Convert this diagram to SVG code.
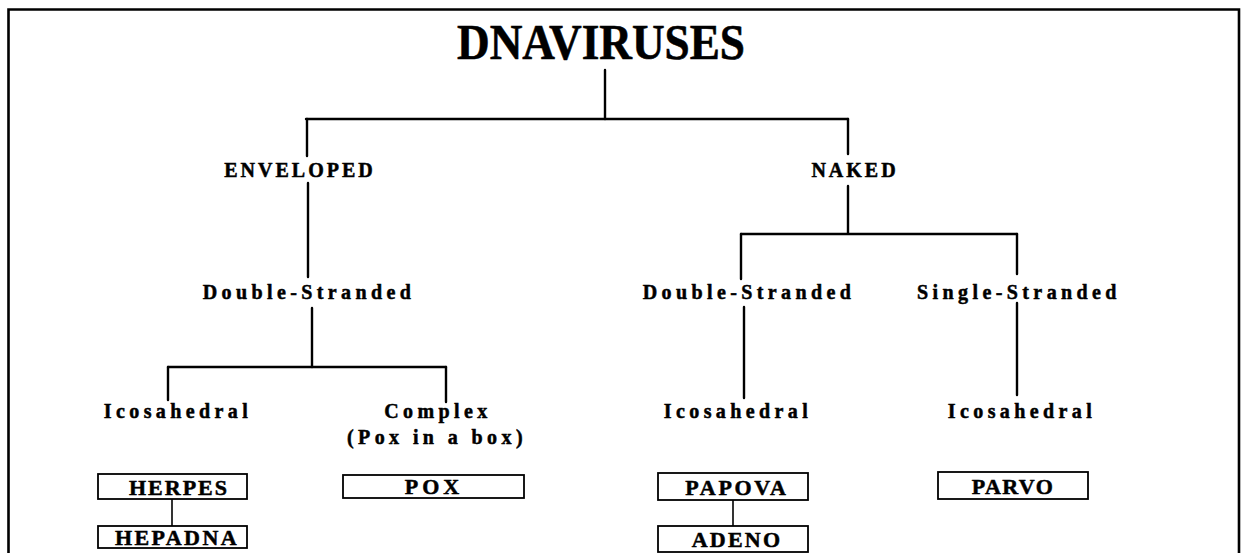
<svg xmlns="http://www.w3.org/2000/svg" width="1248" height="553" viewBox="0 0 1248 553">
<style>
.bg{fill:#ffffff}
.frame{fill:none;stroke:#000;stroke-width:2.6}
.conn line{stroke:#000;stroke-width:2.4;stroke-linecap:round}
.box{fill:#fff;stroke:#000;stroke-width:1.8}
text{font-family:"Liberation Serif","Times New Roman",serif;font-weight:bold;fill:#000;text-anchor:middle;stroke:#000;stroke-width:0.5}
.title{font-size:50px;stroke-width:0.6}
.cat{font-size:20px;letter-spacing:3px}
.lab{font-size:20px;letter-spacing:4.4px}
.vir{font-size:22px;letter-spacing:2.2px}
</style>
<rect class="bg" x="0" y="0" width="1248" height="553"/>
<path class="frame" d="M8.5,553 V9.5 H1239 V553"/>
<g class="conn">
<line x1="605" y1="70" x2="605" y2="119"/>
<line x1="306" y1="119" x2="848" y2="119"/>
<line x1="307" y1="119" x2="307" y2="156"/>
<line x1="848" y1="119" x2="848" y2="154"/>
<line x1="308" y1="183" x2="308" y2="277"/>
<line x1="848" y1="186" x2="848" y2="233"/>
<line x1="312" y1="308" x2="312" y2="367"/>
<line x1="168" y1="367" x2="446" y2="367"/>
<line x1="168" y1="367" x2="168" y2="400"/>
<line x1="446" y1="367" x2="446" y2="402"/>
<line x1="741" y1="234" x2="1017" y2="234"/>
<line x1="741" y1="234" x2="741" y2="279"/>
<line x1="1017" y1="234" x2="1017" y2="274"/>
<line x1="744" y1="307" x2="744" y2="398"/>
<line x1="1017" y1="303" x2="1017" y2="395"/>
<line x1="172" y1="499" x2="172" y2="526" style="stroke-width:1.6"/>
<line x1="733" y1="500" x2="733" y2="526" style="stroke-width:1.6"/>
</g>
<g id="title"><text class="title" x="601" y="59" textLength="288" lengthAdjust="spacingAndGlyphs">DNAVIRUSES</text></g>
<g id="enveloped"><text class="cat" x="300" y="177">ENVELOPED</text></g>
<g id="naked"><text class="cat" x="855" y="177">NAKED</text></g>
<g id="env-ds"><text class="lab" x="309" y="299">Double-Stranded</text></g>
<g id="nak-ds"><text class="lab" x="749" y="299">Double-Stranded</text></g>
<g id="nak-ss"><text class="lab" x="1019" y="299">Single-Stranded</text></g>
<g id="env-ico"><text class="lab" x="178" y="418">Icosahedral</text></g>
<g id="env-complex"><text class="lab" x="438" y="418">Complex</text><text class="lab" x="437" y="444">(Pox in a box)</text></g>
<g id="nak-ds-ico"><text class="lab" x="738" y="418">Icosahedral</text></g>
<g id="nak-ss-ico"><text class="lab" x="1022" y="418">Icosahedral</text></g>
<g id="herpes"><rect class="box" x="98" y="474" width="149" height="25"/><text class="vir" x="179" y="495" style="letter-spacing:2px">HERPES</text></g>
<g id="hepadna"><rect class="box" x="98" y="526" width="149" height="22"/><text class="vir" x="177" y="545" style="letter-spacing:2.4px">HEPADNA</text></g>
<g id="pox"><rect class="box" x="343" y="475" width="181" height="23"/><text class="vir" x="434" y="494" style="letter-spacing:4px">POX</text></g>
<g id="papova"><rect class="box" x="658" y="473" width="150" height="27"/><text class="vir" x="737" y="495" style="letter-spacing:2.7px">PAPOVA</text></g>
<g id="adeno"><rect class="box" x="658" y="526" width="150" height="26"/><text class="vir" x="737" y="547">ADENO</text></g>
<g id="parvo"><rect class="box" x="938" y="472" width="150" height="27"/><text class="vir" x="1013" y="494" style="letter-spacing:1.4px">PARVO</text></g>
</svg>
